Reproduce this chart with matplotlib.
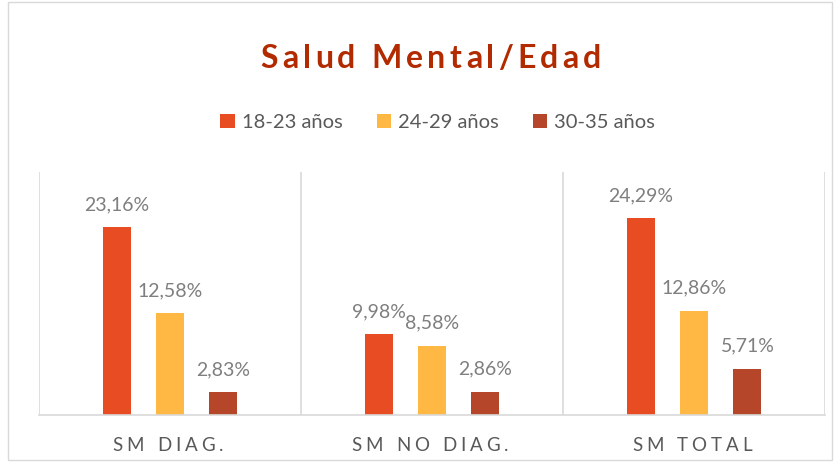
import matplotlib.pyplot as plt
import numpy as np
from matplotlib.patches import Rectangle
from matplotlib.font_manager import FontProperties

categories = ["SM DIAG.", "SM NO DIAG.", "SM TOTAL"]
series_names = ["18-23 años", "24-29 años", "30-35 años"]
values = [
    [23.16, 9.98, 24.29],
    [12.58, 8.58, 12.86],
    [2.83, 2.86, 5.71],
]
colors = ["#E84C22", "#FFB843", "#B5462A"]

plt.rcParams['font.family'] = ['Lato', 'DejaVu Sans']

W, H = 840, 465
fig = plt.figure(figsize=(8.4, 4.65), dpi=100)
ax = fig.add_axes([0.0464, 0.1075, 0.9357, 0.5226])
renderer = fig.canvas.get_renderer()


def spaced_text(xpx, ypx, s, spacing, size, weight="normal", color="k", va="center"):
    # place characters one by one, centred on xpx (pixels from left), ypx from bottom
    fp = FontProperties(family=['Lato', 'DejaVu Sans'], size=size, weight=weight)
    widths = [renderer.get_text_width_height_descent(ch, fp, ismath=False)[0] for ch in s]
    total = sum(widths) + spacing * (len(s) - 1)
    cx = xpx - total / 2
    for ch, w in zip(s, widths):
        fig.text(cx / W, ypx / H, ch, fontproperties=fp, color=color, ha="left", va=va)
        cx += w + spacing


x = np.arange(len(categories))
width = 0.107
step = 0.204
grey = "#7F7F7F"
ax.set_xlim(-0.5, 2.5)
ax.set_ylim(0, 30)
for i, (name, vals, c) in enumerate(zip(series_names, values, colors)):
    pos = x + (i - 1) * step
    ax.bar(pos, vals, width, color=c, label=name)
    for p, v in zip(pos, vals):
        ax.text(p, v + 1.75, f"{v:.2f}%".replace(".", ","), ha="center", va="bottom",
                fontsize=14, color=grey)

ax.set_yticks([])
ax.set_xticks([])
for s in ["top", "left", "right"]:
    ax.spines[s].set_visible(False)
ax.spines["bottom"].set_color("#D9D9D9")
ax.spines["bottom"].set_linewidth(1.2)
for b in [-0.5, 0.5, 1.5, 2.5]:
    ax.axvline(b, color="#D9D9D9", linewidth=1.2)

# category labels with letter spacing
for xi, cat in zip(x, categories):
    px = ax.transData.transform((xi, 0))[0]
    spaced_text(px - 2, H - 445, cat, 4.0, 13.5, color="#595959")

# title
spaced_text(431, H - 58, "Salud Mental/Edad", 4.2, 23, weight="bold", color="#B22A00")

fig.legend(loc="center", bbox_to_anchor=(0.521, 0.736), ncol=3, frameon=False,
           fontsize=14.5, handlelength=0.7, handleheight=0.7, columnspacing=1.7,
           handletextpad=0.35, labelcolor="#595959")

fig.patches.append(Rectangle((0.01, 0.01), 0.98, 0.985, transform=fig.transFigure,
                             fill=False, edgecolor="#D9D9D9", linewidth=1))

fig.savefig("out.png", dpi=100)
